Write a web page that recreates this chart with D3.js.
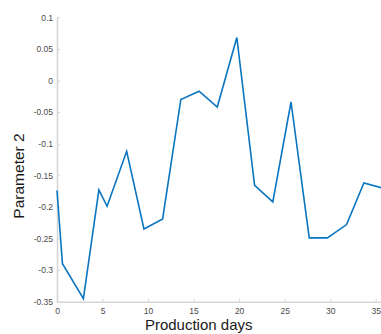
<!DOCTYPE html>
<html>
<head>
<meta charset="utf-8">
<script src="https://cdn.jsdelivr.net/npm/d3@7"></script>
<style>
  html, body { margin: 0; padding: 0; background: #fff; }
  svg { display: block; font-family: "Liberation Sans", Arial, Helvetica, sans-serif; }
</style>
</head>
<body>
<svg id="chart" width="381" height="334"></svg>
<script>
// Production days and the measured Parameter 2 value on each day
const days = [0, 0.6, 2.9, 4.6, 5.5, 7.65, 9.55, 11.6, 13.6, 15.6, 17.6, 19.75, 21.7, 23.7, 25.7, 27.7, 29.7, 31.8, 33.7, 35.7];
const param2 = [-0.174, -0.290, -0.345, -0.173, -0.199, -0.112, -0.235, -0.219, -0.030, -0.017, -0.042, 0.068, -0.166, -0.192, -0.034, -0.249, -0.249, -0.228, -0.162, -0.170];

const xTicks = [0, 5, 10, 15, 20, 25, 30, 35];
const yTicks = [0.1, 0.05, 0, -0.05, -0.1, -0.15, -0.2, -0.25, -0.3, -0.35];

const svg = d3.select("#chart");

const plotLeft = 57, plotTop = 17.3, plotBottom = 301.7;
const pxPerDay = 9.106;

const x = d3.scaleLinear().domain([0, 36]).range([plotLeft, plotLeft + 36 * pxPerDay]);
const y = d3.scaleLinear().domain([-0.35, 0.1]).range([plotBottom, plotTop]);

const fmt = v => String(+v.toFixed(2));

// x axis with inward ticks
const gx = svg.append("g")
  .attr("transform", `translate(0,${plotBottom})`)
  .call(d3.axisBottom(x).tickValues(xTicks).tickFormat(fmt).tickSizeInner(-3).tickSizeOuter(0).tickPadding(6));

// y axis with inward ticks
const gy = svg.append("g")
  .attr("transform", `translate(${plotLeft},0)`)
  .call(d3.axisLeft(y).tickValues(yTicks).tickFormat(fmt).tickSizeInner(-3).tickSizeOuter(0).tickPadding(4));

[gx, gy].forEach(g => {
  g.select(".domain").attr("stroke", "#d6d6d6").attr("stroke-width", 1.6);
  g.selectAll(".tick line").attr("stroke", "#d6d6d6").attr("stroke-width", 1);
  g.selectAll(".tick text").attr("fill", "#4a4a4a").attr("font-size", "8.5px");
});

// the data line
const line = d3.line().x((d, i) => x(days[i])).y(d => y(d));
svg.append("path")
  .datum(param2)
  .attr("d", line)
  .attr("fill", "none")
  .attr("stroke", "#0a75c0")
  .attr("stroke-width", 1.6)
  .attr("stroke-linejoin", "miter");

// axis labels
svg.append("text")
  .attr("x", 198.7)
  .attr("y", 330)
  .attr("text-anchor", "middle")
  .attr("font-size", "15px")
  .attr("fill", "#1a1a1a")
  .text("Production days");

svg.append("text")
  .attr("transform", "translate(24,176) rotate(-90)")
  .attr("text-anchor", "middle")
  .attr("font-size", "15.5px")
  .attr("fill", "#1a1a1a")
  .text("Parameter 2");
</script>
</body>
</html>
